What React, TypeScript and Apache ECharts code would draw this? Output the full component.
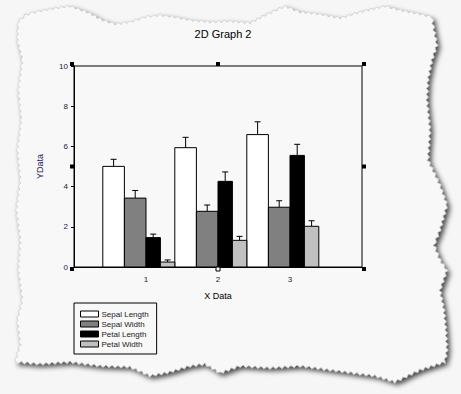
import React, { useEffect, useRef } from "react";
import * as echarts from "echarts";

const categories = [1, 2, 3];
const seriesNames = ["Sepal Length", "Sepal Width", "Petal Length", "Petal Width"];
const sepalLength = [5.006, 5.936, 6.588];
const sepalWidth = [3.428, 2.77, 2.974];
const petalLength = [1.462, 4.26, 5.552];
const petalWidth = [0.246, 1.326, 2.026];
const sepalLengthSD = [0.352, 0.516, 0.636];
const sepalWidthSD = [0.379, 0.314, 0.322];
const petalLengthSD = [0.174, 0.47, 0.552];
const petalWidthSD = [0.105, 0.198, 0.275];
const yTicks = [0, 2, 4, 6, 8, 10];

const means = [sepalLength, sepalWidth, petalLength, petalWidth];
const sds = [sepalLengthSD, sepalWidthSD, petalLengthSD, petalWidthSD];
const colors = ["#ffffff", "#808080", "#000000", "#c0c0c0"];
// bar extents relative to category position, in x units
const offsets = [
  [-0.6, -0.3],
  [-0.3, 0],
  [0, 0.2],
  [0.2, 0.4],
];

const FONT = "Liberation Sans, Arial, sans-serif";

const GRID = { left: 74, top: 66, right: 362, bottom: 267 };

const outline: number[][] = [
  [18, 22], [25, 15], [35, 12], [50, 9], [70, 6], [90, 13], [100, 19], [115, 24], [130, 22], [145, 17],
  [160, 15], [175, 17], [190, 20], [210, 22], [230, 21], [250, 23], [265, 15], [285, 6], [300, 12],
  [320, 14], [340, 18], [360, 12], [385, 6], [400, 10], [420, 14], [432, 17],
  [434, 30], [437, 45], [432, 60], [428, 80], [427, 100], [430, 130], [428, 160], [440, 185],
  [447, 205], [440, 230], [434, 245], [440, 260], [447, 270], [440, 290], [444, 310], [446, 330],
  [447, 350], [445, 362],
  [420, 370], [395, 382], [375, 376], [360, 374], [330, 370], [300, 366], [270, 368], [240, 366],
  [220, 373], [205, 364], [190, 366], [170, 372], [150, 376], [130, 367], [100, 366], [70, 362],
  [40, 364], [15, 362],
  [20, 345], [17, 320], [22, 300], [18, 270], [20, 240], [16, 210], [20, 180], [17, 150],
  [21, 120], [18, 90], [22, 60], [17, 40],
];

function jagged(pts: number[][]): number[][] {
  const out: number[][] = [];
  let k = 0;
  for (let i = 0; i < pts.length; i++) {
    const a = pts[i];
    const b = pts[(i + 1) % pts.length];
    const dx = b[0] - a[0];
    const dy = b[1] - a[1];
    const len = Math.hypot(dx, dy);
    const n = Math.max(1, Math.round(len / 3));
    const nx = -dy / len;
    const ny = dx / len;
    for (let j = 0; j < n; j++) {
      const t = j / n;
      const amp = k % 2 === 0 ? 1.2 : -1.2;
      k++;
      out.push([a[0] + dx * t + nx * amp, a[1] + dy * t + ny * amp]);
    }
  }
  return out;
}

function handle(x: number, y: number, hollow = false) {
  return {
    type: "rect",
    shape: { x: x - 2, y: y - 2, width: 4, height: 4 },
    style: { fill: hollow ? "#ffffff" : "#000000", stroke: "#000000", lineWidth: hollow ? 1 : 0 },
    z: 100,
  };
}

export default function App() {
  const ref = useRef<HTMLDivElement>(null);
  useEffect(() => {
    if (!ref.current) return;
    const chart = echarts.init(ref.current, null, { renderer: "svg" });
    const midX = (GRID.left + GRID.right) / 2;
    const midY = (GRID.top + GRID.bottom) / 2;
    const series = seriesNames.map((name, s) => ({
      name,
      type: "custom",
      itemStyle: { color: colors[s], borderColor: "#000", borderWidth: 1 },
      encode: { x: 0, y: 1 },
      data: categories.map((c, i) => [c, means[s][i], sds[s][i]]),
      renderItem: (params: any, api: any) => {
        const x = api.value(0);
        const y = api.value(1);
        const e = api.value(2);
        const pTop = api.coord([x + offsets[s][0], y]);
        const pBot = api.coord([x + offsets[s][1], 0]);
        const cx = (pTop[0] + pBot[0]) / 2;
        const eTop = api.coord([x, y + e])[1];
        return {
          type: "group",
          children: [
            {
              type: "line",
              shape: { x1: cx, y1: pTop[1], x2: cx, y2: eTop },
              style: { stroke: "#000", lineWidth: 1 },
            },
            {
              type: "line",
              shape: { x1: cx - 3, y1: eTop, x2: cx + 3, y2: eTop },
              style: { stroke: "#000", lineWidth: 1 },
            },
            {
              type: "rect",
              shape: {
                x: pTop[0],
                y: pTop[1],
                width: pBot[0] - pTop[0],
                height: pBot[1] - pTop[1],
              },
              style: { fill: colors[s], stroke: "#000", lineWidth: 1 },
            },
          ],
        };
      },
    }));

    chart.setOption({
      animation: false,
      backgroundColor: "#f6f6f6",
      textStyle: { fontFamily: FONT },
      title: {
        text: "2D Graph 2",
        left: midX,
        textAlign: "center",
        top: 23,
        textStyle: { fontSize: 11, fontWeight: "normal", color: "#000", fontFamily: FONT },
      },
      grid: {
        left: GRID.left,
        top: GRID.top,
        width: GRID.right - GRID.left,
        height: GRID.bottom - GRID.top,
        show: true,
        borderColor: "#000",
        borderWidth: 1,
        backgroundColor: "transparent",
      },
      xAxis: {
        type: "value",
        min: 0,
        max: 4,
        interval: 1,
        name: "X Data",
        nameLocation: "middle",
        nameGap: 24,
        nameTextStyle: { fontSize: 9, color: "#000", fontFamily: FONT },
        splitLine: { show: false },
        axisTick: { show: false },
        axisLine: { lineStyle: { color: "#000", width: 1 } },
        axisLabel: {
          fontSize: 8,
          color: "#1a1a3a",
          margin: 8,
          fontFamily: FONT,
          formatter: (v: number) => (categories.includes(v) ? String(v) : ""),
        },
      },
      yAxis: {
        type: "value",
        min: yTicks[0],
        max: yTicks[yTicks.length - 1],
        interval: yTicks[1] - yTicks[0],
        name: "YData",
        nameLocation: "middle",
        nameGap: 30,
        nameTextStyle: { fontSize: 9, color: "#1a1a5a", fontFamily: FONT },
        splitLine: { show: false },
        axisTick: { show: true, length: 3, lineStyle: { color: "#000" } },
        axisLine: { lineStyle: { color: "#000", width: 1 } },
        axisLabel: { fontSize: 8, color: "#1a1a3a", margin: 6, fontFamily: FONT },
      },
      legend: {
        orient: "vertical",
        left: 74,
        top: 303,
        padding: [7, 8, 6, 6],
        itemGap: 2,
        itemWidth: 18,
        itemHeight: 6,
        icon: "rect",
        borderColor: "#000",
        borderWidth: 1,
        backgroundColor: "transparent",
        itemStyle: { borderColor: "#000", borderWidth: 1 },
        textStyle: { fontSize: 8, color: "#222", fontFamily: FONT, padding: [0, 0, 0, -2] },
        data: seriesNames,
      },
      graphic: [
        {
          type: "polygon",
          z: -10,
          shape: { points: jagged(outline) },
          style: {
            fill: "#f8f8f8",
            stroke: "#b8b8b8",
            lineWidth: 0.5,
            shadowColor: "rgba(0,0,0,0.7)",
            shadowBlur: 5,
            shadowOffsetX: 3,
            shadowOffsetY: 3,
          },
        },
        handle(GRID.left - 2, GRID.top - 2),
        handle(midX, GRID.top - 2),
        handle(GRID.right + 2, GRID.top - 2),
        handle(GRID.left - 2, midY),
        handle(GRID.right + 2, midY),
        handle(GRID.left - 2, GRID.bottom + 2),
        handle(midX, GRID.bottom + 2, true),
        handle(GRID.right + 2, GRID.bottom + 2),
      ],
      series,
    });
    return () => chart.dispose();
  }, []);
  return (
    <div
      ref={ref}
      style={{ position: "fixed", left: 0, top: 0, width: 461, height: 394 }}
    />
  );
}
